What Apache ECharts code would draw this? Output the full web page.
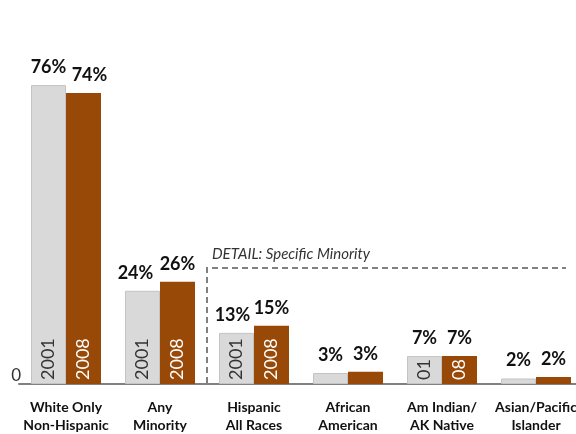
<!DOCTYPE html>
<html>
<head>
<meta charset="utf-8">
<script src="https://cdn.jsdelivr.net/npm/echarts@6/dist/echarts.min.js"></script>
<style>
  html, body { margin: 0; padding: 0; background: #fff; }
  #chart { width: 576px; height: 434px; }
</style>
</head>
<body>
<div id="chart"></div>
<script>
const categories = ['White Only\nNon-Hispanic', 'Any\nMinority', 'Hispanic\nAll Races', 'African\nAmerican', 'Am Indian/\nAK Native', 'Asian/Pacific\nIslander'];
const values2001 = [76, 23.7, 13, 2.8, 7.1, 1.4];
const values2008 = [74, 26, 14.8, 3.1, 7.1, 1.8];
const labels2001 = ['76%', '24%', '13%', '3%', '7%', '2%'];
const labels2008 = ['74%', '26%', '15%', '3%', '7%', '2%'];
const inner2001 = ['2001', '2001', '2001', '', '01', ''];
const inner2008 = ['2008', '2008', '2008', '', '08', ''];
const yTicks = [0];

// small nudges so neighbouring top labels don't collide
const shift2001 = [0, -7, -4, 0, 0, 0];
const shift2008 = [6, 0, 0, 0, 0, 0];

const FONT = 'Lato, "Open Sans", sans-serif';
const GRAY = '#d9d9d9';
const BROWN = '#984807';

const chart = echarts.init(document.getElementById('chart'));

// zero-height bar on top of each stack carries the percentage label
function topSeries(stack, labels, shifts) {
  return {
    type: 'bar',
    stack: stack,
    barWidth: 35,
    barGap: '0%',
    data: labels.map((l, i) => ({ value: 0, label: { offset: [shifts[i], 0] } })),
    itemStyle: { color: 'transparent' },
    label: {
      show: true,
      position: 'top',
      distance: 9,
      formatter: (p) => labels[p.dataIndex],
      fontFamily: FONT,
      fontWeight: 'bold',
      fontSize: 18,
      color: '#111'
    },
    silent: true
  };
}

function mainSeries(stack, values, inner, color, textColor, border) {
  return {
    type: 'bar',
    stack: stack,
    barWidth: 35,
    barGap: '0%',
    data: values,
    itemStyle: { color: color, borderColor: border, borderWidth: border ? 1 : 0 },
    label: {
      show: true,
      position: 'insideBottom',
      rotate: 90,
      align: 'left',
      verticalAlign: 'middle',
      distance: 4,
      formatter: (p) => inner[p.dataIndex],
      fontFamily: FONT,
      fontSize: 18,
      color: textColor
    }
  };
}

const option = {
  animation: false,
  grid: { left: 19, width: 564, top: 30, bottom: 50, outerBoundsMode: 'none', containLabel: false },
  xAxis: {
    type: 'category',
    data: categories,
    axisLine: { lineStyle: { color: '#808080', width: 2 } },
    axisTick: { show: false },
    axisLabel: {
      interval: 0,
      margin: 14,
      fontFamily: FONT,
      fontWeight: 'bold',
      fontSize: 14,
      lineHeight: 18,
      color: '#111'
    }
  },
  yAxis: {
    type: 'value',
    min: 0,
    max: 90,
    interval: 90,
    axisLine: { show: false },
    axisTick: { show: false },
    splitLine: { show: false },
    axisLabel: {
      margin: -2,
      verticalAlign: 'bottom',
      fontFamily: FONT,
      fontSize: 17,
      color: '#333',
      formatter: (v) => (yTicks.includes(v) ? String(v) : '')
    }
  },
  series: [
    mainSeries('s2001', values2001, inner2001, GRAY, '#333', '#c4c4c4'),
    topSeries('s2001', labels2001, shift2001),
    mainSeries('s2008', values2008, inner2008, BROWN, '#fff', null),
    topSeries('s2008', labels2008, shift2008)
  ],
  graphic: [
    {
      type: 'polyline',
      shape: { points: [[207, 383], [207, 268], [566, 268]] },
      style: { stroke: '#808080', lineWidth: 2, lineDash: [6, 4], fill: null },
      silent: true
    },
    {
      type: 'text',
      left: 212,
      top: 247,
      style: {
        text: 'DETAIL: Specific Minority',
        font: 'italic 15px ' + FONT,
        fill: '#333'
      },
      silent: true
    }
  ]
};

chart.setOption(option);
</script>
</body>
</html>
